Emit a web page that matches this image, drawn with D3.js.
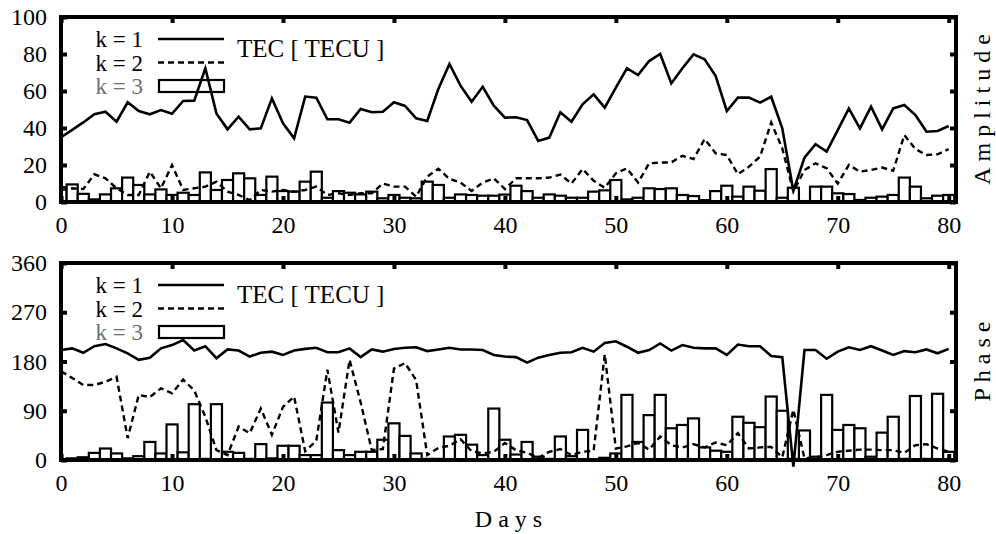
<!DOCTYPE html>
<html>
<head>
<meta charset="utf-8">
<script src="https://cdn.jsdelivr.net/npm/d3@7/dist/d3.min.js"></script>
<style>
body { margin: 0; background: #fff; }
</style>
</head>
<body>
<script>
// days 0..80
var days = d3.range(0, 81);

// amplitude, k = 1 (solid), k = 2 (dashed), k = 3 (boxes)
var ampK1 = [35, 39, 43, 47.4, 48.8, 43.4, 53.9, 49.2, 47.4, 49.7, 47.7, 54.6, 54.8, 72.3, 47.9, 39.3, 46.1, 39.3, 39.8, 56,
    42.5, 34.4, 57, 56.4, 44.7, 44.7, 42.9, 50.3, 48.5, 48.8, 53.9, 51.9, 45.2, 43.8, 61.1, 74.6, 62.9, 54.2, 62.3, 52.1,
    45.6, 45.8, 44.3, 33, 34.8, 48.5, 43.4, 52.8, 58.2, 51, 61.8, 72.3, 68.6, 76.2, 80, 64.1, 72.3, 79.8, 77.1, 68.1,
    49.2, 56.4, 56.4, 53.7, 56.9, 39.8, 6, 24, 31.2, 27.2, 38.9, 50.6, 39.8, 51.5, 39.3, 50.6, 52.4, 47, 38, 38.4, 41.1];
var ampK2 = [6.5, 7.4, 7, 15, 12.8, 7.4, 3.8, 3.8, 16.4, 7.4, 20, 6.5, 7.4, 8.3, 11, 5.6, 3.8, 1, 6.5, 5.6,
    6.5, 5.6, 6.5, 8.3, 3.8, 4.7, 3.8, 4.7, 4.7, 10, 8.3, 8.3, 2.9, 13.7, 18, 12.5, 10.5, 6, 10.5, 12.8,
    7, 12.8, 12.8, 12.8, 13.2, 14.8, 10, 17.8, 11.5, 7.7, 15.5, 18.2, 10.5, 20.9, 21.3, 21.4, 25, 23.2, 34, 26.3,
    25.4, 15, 19.1, 24.5, 43, 29, 5.6, 17.3, 20.9, 18.2, 10, 20, 16.4, 17.3, 18.6, 16.9, 36.2, 28.6, 25.4, 25.8, 28.6];
var ampK3 = [8, 9.5, 4.4, 1.4, 4.1, 7.4, 13.2, 9.2, 4.1, 6.8, 3.8, 5, 3.8, 16, 6.5, 11.9, 15.5, 12.8, 3.8, 13.7,
    5.9, 5.6, 11, 16.4, 2.3, 5.9, 5, 4.1, 5.6, 2, 3.8, 2.3, 2, 11, 9.2, 2.3, 4.1, 3.8, 3.4, 3.4,
    4, 8.8, 5.9, 2.3, 4.1, 3.4, 2.3, 2.3, 5.6, 6.3, 11.9, 1.4, 2.3, 7.4, 7, 7.4, 3.8, 3.2, 1, 5.9,
    8.8, 2.9, 8.3, 6.1, 17.8, 2.3, 7.7, 0.5, 8.3, 8.3, 4.7, 4.3, 1.1, 2.3, 2.9, 3.8, 13.2, 8.3, 2, 3.4, 3.8];

// phase, same three harmonics
var phK1 = [201, 204, 196, 208, 212, 204, 195, 183, 187, 204, 210, 219, 200, 208, 186, 202, 200, 189, 196, 198,
    192, 200, 203, 205, 197, 197, 204, 188, 202, 198, 203, 205, 206, 199, 202, 205, 202, 202, 201, 192,
    189, 188, 178, 187, 192, 196, 197, 205, 198, 214, 217, 207, 196, 201, 213, 200, 210, 205, 204, 204,
    192, 211, 208, 208, 190, 188, -12, 201, 201, 185, 198, 206, 201, 208, 200, 192, 199, 197, 202, 195, 203];
var phK2 = [162, 150, 137, 137, 143, 152, 40, 119, 115, 131, 122, 147, 127, 79, 18, 9, 61, 49, 94, 46,
    97, 116, 16, 35, 165, 50, 183, 105, 18, 20, 167, 177, 146, 9, 22, 26, 38, 16, 12, 15,
    31, 18, 13, 4, 15, 20, 9, 15, 17, 193, 21, 25, 31, 19, 43, 27, 23, 29, 23, 32,
    27, 49, 21, 23, 24, 5, 92, 3, 5, 9, 15, 17, 19, 19, 18, 18, 13, 27, 29, 21, 15];
var phK3 = [1, 3, 5, 13, 21, 12, 3, 7, 33, 12, 65, 14, 102, 2, 102, 15, 13, 2, 29, 3,
    26, 26, 9, 9, 105, 18, 9, 15, 15, 37, 67, 44, 12, 2, 2, 43, 46, 28, 9, 94,
    37, 10, 33, 6, 2, 43, 7, 55, 1, 4, 12, 119, 33, 82, 119, 58, 64, 76, 23, 17,
    15, 79, 68, 60, 116, 90, 2, 54, 6, 119, 55, 64, 58, 6, 50, 79, 2, 117, 2, 121, 15];

var xTicks = [0, 10, 20, 30, 40, 50, 60, 70, 80];
var ampTicks = [0, 20, 40, 60, 80, 100];
var phTicks = [0, 90, 180, 270, 360];
var legendLabels = ["k = 1", "k = 2", "k = 3"];
var legendTitle = "TEC [ TECU ]";

var width = 996,
    height = 534;

var frameL = 61, frameR = 956;
var serif = "Liberation Serif"; // single name only, lists are not picked up by the renderer

var svg = d3.select("body")
    .append("svg")
    .attr("width", width)
    .attr("height", height)
    .attr("font-family", serif);

var x = d3.scaleLinear()
    .domain([0, 80])
    .range([61.1, 948.7]);

var dayW = x(1) - x(0);

// one panel: frame, ticks, legend, boxes and two lines
function drawPanel(id, top, bottom, yDomain, yTicks, s1, s2, s3, title) {
    var y = d3.scaleLinear().domain(yDomain).range([bottom, top]);
    var g = svg.append("g");

    svg.append("clipPath").attr("id", "clip" + id)
        .append("rect")
        .attr("x", frameL).attr("y", top)
        .attr("width", frameR - frameL).attr("height", bottom - top);

    // legend
    g.selectAll(".leg")
        .data(legendLabels)
        .enter().append("text")
        .attr("x", 143)
        .attr("y", function(d, i) { return top + 30 + i * 23.5; })
        .attr("text-anchor", "end")
        .attr("font-family", serif)
        .attr("font-size", 23)
        .attr("fill", function(d, i) { return i == 2 ? "#6e6e6e" : "#000"; })
        .text(function(d) { return d; });

    g.append("line")
        .attr("x1", 158).attr("x2", 224)
        .attr("y1", top + 22).attr("y2", top + 22)
        .attr("stroke", "#000").attr("stroke-width", 2.6);
    g.append("line")
        .attr("x1", 158).attr("x2", 224)
        .attr("y1", top + 45.5).attr("y2", top + 45.5)
        .attr("stroke", "#000").attr("stroke-width", 2.4)
        .attr("stroke-dasharray", "6,4");
    g.append("rect")
        .attr("x", 159).attr("y", top + 63)
        .attr("width", 65).attr("height", 12)
        .attr("fill", "#fff").attr("stroke", "#000").attr("stroke-width", 2.2);

    g.append("text")
        .attr("x", 237)
        .attr("y", top + 40)
        .attr("font-family", serif)
        .attr("font-size", 25)
        .text(legendTitle);

    // k = 3 boxes
    g.append("g")
        .attr("clip-path", "url(#clip" + id + ")")
        .selectAll("rect")
        .data(s3)
        .enter().append("rect")
        .attr("x", function(d, i) { return x(days[i]) - dayW / 2; })
        .attr("y", function(d) { return y(d); })
        .attr("width", dayW)
        .attr("height", function(d) { return y(0) - y(d); })
        .attr("fill", "#fff")
        .attr("stroke", "#000")
        .attr("stroke-width", 2.2);

    var line = d3.line()
        .x(function(d, i) { return x(days[i]); })
        .y(function(d) { return y(d); });

    g.append("path")
        .datum(s2)
        .attr("d", line)
        .attr("fill", "none")
        .attr("stroke", "#000")
        .attr("stroke-width", 2.4)
        .attr("stroke-dasharray", "6,4");

    g.append("path")
        .datum(s1)
        .attr("d", line)
        .attr("fill", "none")
        .attr("stroke", "#000")
        .attr("stroke-width", 2.6);

    // axes, ticks pointing inward on all four sides
    var ax = g.append("g").attr("transform", "translate(0," + bottom + ")")
        .call(d3.axisBottom(x).tickValues(xTicks).tickSize(-6).tickPadding(14).tickFormat(d3.format("d")));
    var axT = g.append("g").attr("transform", "translate(0," + top + ")")
        .call(d3.axisTop(x).tickValues(xTicks).tickSize(-6).tickFormat(""));
    var ay = g.append("g").attr("transform", "translate(" + frameL + ",0)")
        .call(d3.axisLeft(y).tickValues(yTicks).tickSize(-6).tickPadding(14).tickFormat(d3.format("d")));
    var ayR = g.append("g").attr("transform", "translate(" + frameR + ",0)")
        .call(d3.axisRight(y).tickValues(yTicks).tickSize(-6).tickFormat(""));

    [ax, axT, ay, ayR].forEach(function(a) {
        a.attr("font-family", serif).attr("font-size", 24);
        a.select(".domain").remove();
        a.selectAll(".tick line").attr("stroke", "#000").attr("stroke-width", 4);
        a.selectAll(".tick text").attr("fill", "#000");
    });

    g.append("rect")
        .attr("x", frameL).attr("y", top)
        .attr("width", frameR - frameL).attr("height", bottom - top)
        .attr("fill", "none")
        .attr("stroke", "#000")
        .attr("stroke-width", 4);

    // side title, spaced letters
    var ls = 6;
    g.append("text")
        .attr("transform", "translate(990," + ((top + bottom) / 2) + ") rotate(-90)")
        .attr("text-anchor", "middle")
        .attr("dx", ls / 2)
        .attr("font-family", serif)
        .attr("font-size", 24)
        .attr("letter-spacing", ls)
        .text(title);
}

drawPanel("a", 17, 202, [0, 100], ampTicks, ampK1, ampK2, ampK3, "Amplitude");
drawPanel("p", 263, 460, [0, 360], phTicks, phK1, phK2, phK3, "Phase");

svg.append("text")
    .attr("x", (frameL + frameR) / 2 + 3)
    .attr("y", 527)
    .attr("text-anchor", "middle")
    .attr("font-family", serif)
    .attr("font-size", 24)
    .attr("letter-spacing", 6)
    .text("Days");
</script>
</body>
</html>
